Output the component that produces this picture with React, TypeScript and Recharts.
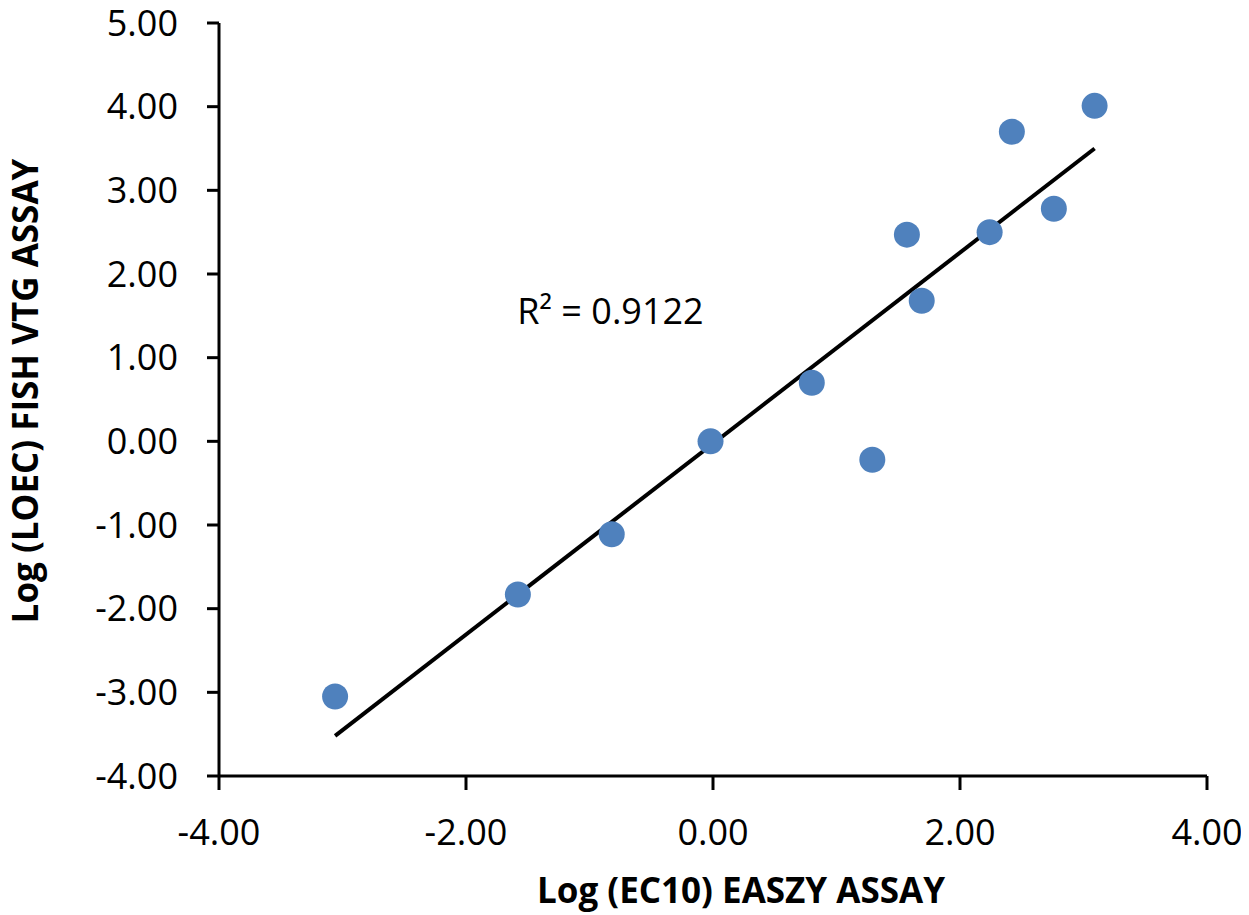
import { ScatterChart, Scatter, XAxis, YAxis, Label, ReferenceDot } from 'recharts';

const ec10 = [-3.06, -1.58, -0.82, -0.02, 0.8, 1.29, 1.57, 1.69, 2.24, 2.42, 2.76, 3.09];
const loec = [-3.05, -1.83, -1.11, 0.0, 0.7, -0.22, 2.47, 1.68, 2.5, 3.7, 2.78, 4.01];
const trendX = [-3.06, 3.09];
const trendY = [-3.52, 3.5];
const xTicks = [-4, -2, 0, 2, 4];
const yTicks = [-4, -3, -2, -1, 0, 1, 2, 3, 4, 5];
const rSquared = 'R² = 0.9122';
const rLabelAt = { x: -0.83, y: 1.56 };

const points = ec10.map((x, i) => ({ x, y: loec[i] }));
const trend = trendX.map((x, i) => ({ x, y: trendY[i] }));

const FONT = '"Open Sans", "Liberation Sans", sans-serif';
const BLUE = '#4F81BD';

const fmt = (v: number) => v.toFixed(2);

export default function App() {
  // pull the chart over the body margin so it lines up with page pixels
  return (
    <div style={{ width: 1249, height: 915, margin: '-8px 0 0 -8px', fontFamily: FONT }}>
      <ScatterChart width={1249} height={915} margin={{ top: 23, right: 42, left: 0, bottom: 0 }}>
        <XAxis
          type="number"
          dataKey="x"
          domain={[-4, 4]}
          ticks={xTicks}
          tickFormatter={fmt}
          height={139}
          axisLine={{ stroke: '#000', strokeWidth: 3 }}
          tickLine={{ stroke: '#000', strokeWidth: 3 }}
          tickSize={14}
          tickMargin={29}
          tick={{ fill: '#000', fontSize: 36, fontFamily: FONT }}
        >
          <Label
            content={({ viewBox }: any) => (
              <text
                x={viewBox.x + viewBox.width / 2 + 28}
                y={viewBox.y + 127}
                textAnchor="middle"
                fontSize={35}
                fontWeight="bold"
                fontFamily={FONT}
                fill="#000"
              >
                Log (EC10) EASZY ASSAY
              </text>
            )}
          />
        </XAxis>
        <YAxis
          type="number"
          dataKey="y"
          domain={[-4, 5]}
          ticks={yTicks}
          tickFormatter={fmt}
          width={219}
          axisLine={{ stroke: '#000', strokeWidth: 3 }}
          tickLine={{ stroke: '#000', strokeWidth: 3 }}
          tickSize={12}
          tickMargin={29}
          tick={{ fill: '#000', fontSize: 36, fontFamily: FONT }}
        >
          <Label
            content={() => (
              <text
                x={38}
                y={391}
                transform="rotate(-90, 38, 391)"
                textAnchor="middle"
                fontSize={35}
                fontWeight="bold"
                fontFamily={FONT}
                fill="#000"
              >
                Log (LOEC) FISH VTG ASSAY
              </text>
            )}
          />
        </YAxis>
        <Scatter
          data={trend}
          line={{ stroke: '#000', strokeWidth: 4 }}
          shape={() => <g />}
          isAnimationActive={false}
        />
        <Scatter
          data={points}
          shape={(p: any) => <circle cx={p.cx} cy={p.cy} r={13} fill={BLUE} />}
          isAnimationActive={false}
        />
        <ReferenceDot
          x={rLabelAt.x}
          y={rLabelAt.y}
          r={0}
          stroke="none"
          label={{ value: rSquared, position: 'center', fontSize: 36, fill: '#000', fontFamily: FONT }}
        />
      </ScatterChart>
    </div>
  );
}
